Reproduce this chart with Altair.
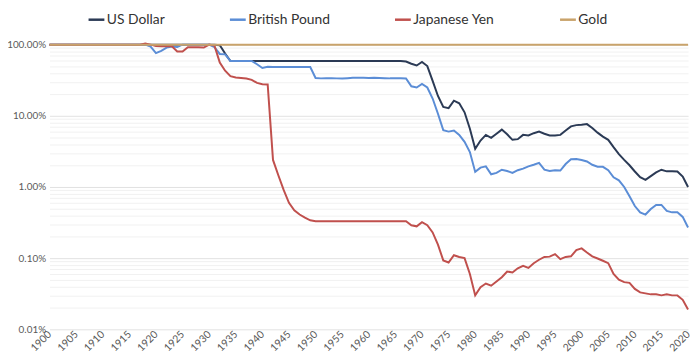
import altair as alt
import pandas as pd

years = list(range(1900, 2021))

usd = (
    [1.0] * 32                                   # 1900-1931
    + [0.98, 0.75]                               # 1932-1933
    + [0.59] * 33                                # 1934-1966
    + [0.58, 0.54, 0.51, 0.57, 0.50, 0.31, 0.19, 0.133, 0.128, 0.163,   # 1967-1976
       0.15, 0.112, 0.066, 0.0344, 0.045, 0.054, 0.049, 0.056, 0.064, 0.055,  # 1977-1986
       0.046, 0.047, 0.054, 0.053, 0.057, 0.060, 0.056, 0.053, 0.053, 0.054,  # 1987-1996
       0.062, 0.071, 0.074, 0.075, 0.0765, 0.0675, 0.058, 0.051, 0.046, 0.0363,  # 1997-2006
       0.029, 0.024, 0.0202, 0.0165, 0.0137, 0.0126, 0.0142, 0.0160, 0.0175, 0.0166,  # 2007-2016
       0.0166, 0.0165, 0.0140, 0.0100]            # 2017-2020
)

gbp = (
    [1.0] * 19                                   # 1900-1918
    + [0.94, 0.76, 0.82, 0.91, 0.94, 0.93]       # 1919-1924
    + [1.0] * 6                                  # 1925-1930
    + [0.92, 0.74, 0.73]                         # 1931-1933
    + [0.59] * 5                                 # 1934-1938
    + [0.53, 0.47, 0.49]                         # 1939-1941
    + [0.485] * 8                                # 1942-1949
    + [0.34, 0.336, 0.338, 0.338, 0.336, 0.334, 0.338, 0.342, 0.344, 0.342,  # 1950-1959
       0.340, 0.342, 0.340, 0.338, 0.336, 0.336, 0.336, 0.335,   # 1960-1967
       0.26, 0.25, 0.28, 0.25, 0.175, 0.107, 0.063, 0.060, 0.062,   # 1968-1976
       0.054, 0.043, 0.031, 0.0163, 0.0187, 0.0195, 0.0151, 0.0158, 0.0175, 0.0168,  # 1977-1986
       0.0158, 0.0172, 0.0181, 0.0195, 0.0205, 0.0218, 0.0175, 0.0168, 0.0172, 0.0170,  # 1987-1996
       0.021, 0.0245, 0.0248, 0.0240, 0.0228, 0.0205, 0.0193, 0.0192, 0.0172, 0.0137,  # 1997-2006
       0.0124, 0.0100, 0.0074, 0.0054, 0.0044, 0.0041, 0.0049, 0.0056, 0.0056, 0.0046,  # 2007-2016
       0.0044, 0.0044, 0.0038, 0.0027]            # 2017-2020
)

jpy = (
    [1.0] * 18                                   # 1900-1917
    + [1.04, 1.0, 0.96, 0.95, 0.95, 0.95, 0.80, 0.80, 0.92, 0.92, 0.92, 0.91,  # 1918-1929
       1.0, 0.97, 0.56, 0.43, 0.36, 0.345, 0.34, 0.335, 0.32, 0.29, 0.277, 0.276,  # 1930-1941
       0.024, 0.0146, 0.0091, 0.0060, 0.0047, 0.0041, 0.0037, 0.0034]   # 1942-1949
    + [0.0033] * 18                              # 1950-1967
    + [0.0029, 0.0028, 0.0032, 0.0029, 0.0023, 0.00155, 0.00093, 0.00087, 0.0011,  # 1968-1976
       0.00104, 0.0010, 0.0006, 0.00030, 0.00039, 0.00044, 0.00041, 0.00047, 0.00054, 0.00065,  # 1977-1986
       0.00063, 0.00072, 0.00078, 0.00073, 0.00085, 0.00095, 0.00104, 0.00105, 0.00114, 0.00097,  # 1987-1996
       0.00104, 0.00106, 0.0013, 0.00137, 0.0012, 0.00106, 0.00099, 0.00092, 0.00085, 0.00060,  # 1997-2006
       0.00050, 0.00046, 0.00045, 0.00037, 0.00033, 0.00032, 0.00031, 0.00031, 0.00030, 0.00031,  # 2007-2016
       0.00030, 0.00030, 0.00026, 0.00019]         # 2017-2020
)

gold = [1.0] * len(years)

series_names = ["US Dollar", "British Pound", "Japanese Yen", "Gold"]
series_colors = ["#2b3a55", "#5b8dd6", "#c0504d", "#c9a36b"]
series_values = [usd, gbp, jpy, gold]

x_ticks = list(range(1900, 2021, 5))
decades = [0.0001, 0.001, 0.01, 0.1]
multipliers = [1, 2, 3, 4, 5, 6, 7, 8, 9]
y_ticks = [d * m for d in decades for m in multipliers] + [1.0]

rows = []
for name, vals in zip(series_names, series_values):
    for yr, v in zip(years, vals):
        rows.append({"Year": yr, "Value": v, "Series": name})
df = pd.DataFrame(rows)

is_major = "abs(log(datum.value)/LN10 - round(log(datum.value)/LN10)) < 1e-6"

chart = alt.Chart(df).mark_line(strokeWidth=2, clip=False).encode(
    x=alt.X("Year:Q",
            scale=alt.Scale(domain=[1900, 2020], nice=False, zero=False),
            axis=alt.Axis(values=x_ticks, format="d", labelAngle=-45, grid=False,
                          domain=False, ticks=False, labelFontSize=10.5,
                          labelColor="#595959", labelPadding=3, title=None,
                          labelFont="Lato", labelAlign="right",
                          labelBaseline="middle", labelOverlap=False)),
    y=alt.Y("Value:Q",
            scale=alt.Scale(type="log", domain=[0.0001, 1], nice=False),
            axis=alt.Axis(values=y_ticks, format=".2%",
                          labelExpr=f"({is_major}) ? format(datum.value, '.2%') : ''",
                          grid=True,
                          gridColor={"condition": {"test": is_major, "value": "#e2e2e2"},
                                     "value": "#f1f1f1"},
                          gridWidth=1,
                          domain=False, ticks=False, labelFontSize=10,
                          labelColor="#595959", labelPadding=4, title=None,
                          labelFont="Lato")),
    color=alt.Color("Series:N",
                    scale=alt.Scale(domain=series_names, range=series_colors),
                    sort=series_names,
                    legend=alt.Legend(orient="none", legendX=38, legendY=-35,
                                      direction="horizontal", title=None,
                                      symbolType="stroke", symbolSize=256,
                                      symbolStrokeWidth=2.5, labelFontSize=14,
                                      labelFont="Lato", labelColor="#333333",
                                      labelOffset=1, columnPadding=60)),
    strokeWidth=alt.condition(alt.datum.Series == "Gold", alt.value(3), alt.value(2)),
    order=alt.Order("Year:Q"),
).properties(
    width=646,
    height=288,
    autosize=alt.AutoSizeParams(type="none"),
    padding={"left": 42, "top": 35, "right": 4, "bottom": 33},
).configure_view(stroke=None)

chart.save("out.html", embed_options={"renderer": "svg", "actions": False})
